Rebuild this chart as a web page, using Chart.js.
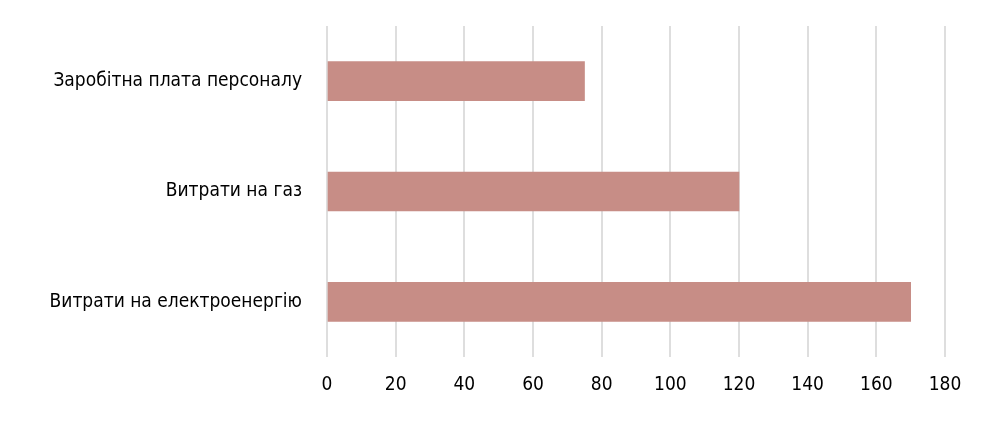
<!DOCTYPE html>
<html>
<head>
  <meta charset="utf-8">
  <title>Витрати</title>
  <script src="https://cdn.jsdelivr.net/npm/chart.js"></script>
  <style>
    html, body {
      margin: 0;
      padding: 0;
      background: #ffffff;
    }
    #chart-container {
      width: 1008px;
      height: 425px;
      position: relative;
    }
  </style>
</head>
<body>
  <div id="chart-container">
    <canvas id="myChart"></canvas>
  </div>
  <script>
    const categories = ['Заробітна плата персоналу', 'Витрати на газ', 'Витрати на електроенергію'];
    const values = [75, 120, 170];
    const axisMin = 0;
    const axisMax = 180;
    const axisStep = 20;

    const fontFamily = "'DejaVu Sans Condensed', 'DejaVu Sans', sans-serif";

    const ctx = document.getElementById('myChart').getContext('2d');
    new Chart(ctx, {
      type: 'bar',
      data: {
        labels: categories,
        datasets: [{
          data: values,
          backgroundColor: '#c78d86',
          borderWidth: 0,
          barThickness: 39
        }]
      },
      options: {
        indexAxis: 'y',
        responsive: true,
        maintainAspectRatio: false,
        animation: false,
        layout: {
          padding: { left: 0, top: 26, right: 63, bottom: 0 }
        },
        plugins: {
          legend: { display: false },
          tooltip: { enabled: false }
        },
        scales: {
          x: {
            min: axisMin,
            max: axisMax,
            border: { display: false },
            grid: {
              color: '#dedede',
              lineWidth: 2,
              drawTicks: false
            },
            ticks: {
              stepSize: axisStep,
              padding: 17,
              color: '#000000',
              font: { family: fontFamily, size: 19 }
            },
            afterFit: (axis) => { axis.height = 68; }
          },
          y: {
            border: { display: false },
            grid: { display: false, drawTicks: false },
            ticks: {
              padding: 25,
              color: '#000000',
              font: { family: fontFamily, size: 19 }
            },
            afterFit: (axis) => {
              axis.width = 327;
              axis.paddingTop = 0;
              axis.paddingBottom = 0;
            }
          }
        }
      }
    });
  </script>
</body>
</html>
